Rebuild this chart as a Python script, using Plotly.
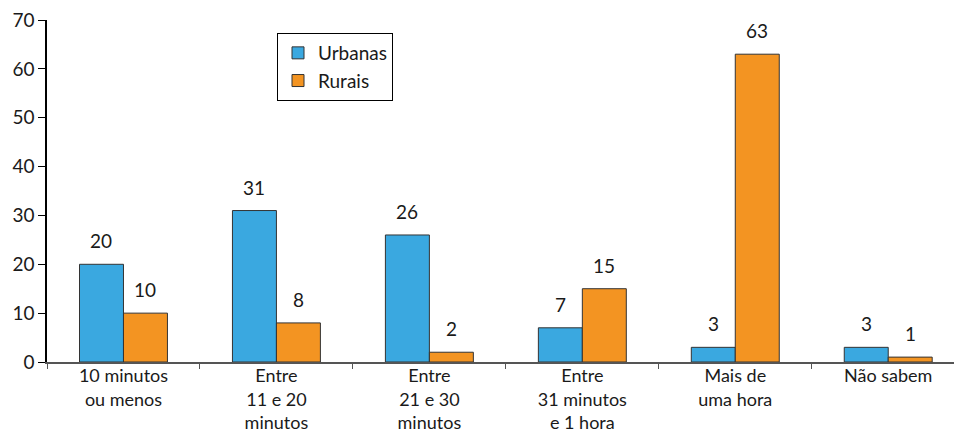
import plotly.graph_objects as go

categories = ["10 minutos<br>ou menos", "Entre<br>11 e 20<br>minutos", "Entre<br>21 e 30<br>minutos",
              "Entre<br>31 minutos<br>e 1 hora", "Mais de<br>uma hora", "Não sabem"]
urbanas = [20, 31, 26, 7, 3, 3]
rurais = [10, 8, 2, 15, 63, 1]
y_ticks = [0, 10, 20, 30, 40, 50, 60, 70]

BLUE = "#3AA8E0"
ORANGE = "#F39422"
FONT = "Lato, 'Open Sans', sans-serif"

fig = go.Figure()
fig.add_trace(go.Bar(name="Urbanas", x=categories, y=urbanas, marker=dict(color=BLUE, line=dict(color="#333333", width=1))))
fig.add_trace(go.Bar(name="Rurais", x=categories, y=rurais, marker=dict(color=ORANGE, line=dict(color="#333333", width=1))))

annotations = []
for series, shift in ((urbanas, -22), (rurais, 22)):
    for cat, v in zip(categories, series):
        annotations.append(dict(x=cat, y=v, text=str(v), showarrow=False, xshift=shift,
                                yanchor="bottom", yshift=10, font=dict(size=19, color="#1a1a1a")))

fig.update_layout(
    width=954, height=434,
    margin=dict(l=47, r=0, t=20, b=72, autoexpand=False),
    paper_bgcolor="white", plot_bgcolor="white",
    font=dict(family=FONT, size=19, color="#1a1a1a"),
    barmode="group", bargap=0.425, bargroupgap=0,
    showlegend=True,
    legend=dict(x=0.2536, y=0.962, xanchor="left", yanchor="top", bordercolor="black", borderwidth=1,
                bgcolor="white", font=dict(size=19), tracegroupgap=2),
    annotations=annotations,
)
fig.update_xaxes(range=[-0.5, 5.43], showline=True, linecolor="#555555", linewidth=1.5,
                 ticks="outside", ticklen=5, tickcolor="#555555", tickson="boundaries",
                 ticklabelstandoff=-3,
                 showgrid=False, tickfont=dict(size=18), automargin=False)
fig.update_yaxes(range=[0, 70], tickvals=y_ticks, showline=True, linecolor="black", linewidth=1.5,
                 ticks="outside", ticklen=7, tickcolor="black", showgrid=False, zeroline=False,
                 tickfont=dict(size=19), automargin=False)

fig.write_html("out.html")
